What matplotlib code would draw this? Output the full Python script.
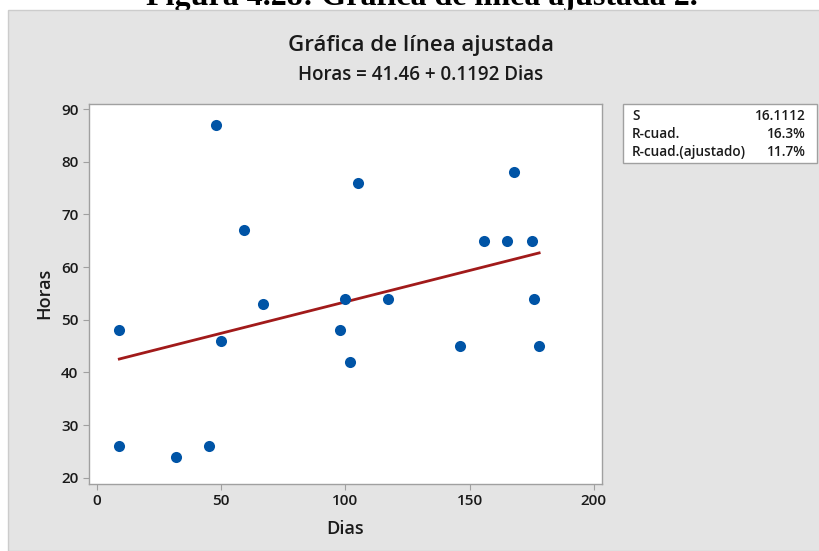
import matplotlib
matplotlib.use("Agg")
import matplotlib.pyplot as plt
import numpy as np
from matplotlib.patches import Rectangle

# Data
dias = [9, 9, 32, 45, 48, 50, 59, 67, 98, 100, 102, 105, 117, 146, 156, 165, 168, 175, 176, 178]
horas = [48, 26, 24, 26, 87, 46, 67, 53, 48, 54, 42, 76, 54, 45, 65, 65, 78, 65, 54, 45]
intercept = 41.46
slope = 0.1192
stat_labels = ["S", "R-cuad.", "R-cuad.(ajustado)"]
stat_values = ["16.1112", "16.3%", "11.7%"]
x_ticks = [0, 50, 100, 150, 200]
y_ticks = [20, 30, 40, 50, 60, 70, 80, 90]

W, H = 820, 551
plt.rcParams["font.family"] = ["Open Sans", "DejaVu Sans"]

fig = plt.figure(figsize=(W / 100, H / 100), dpi=100)
fig.patch.set_facecolor("white")

# grey Minitab panel behind the graph
fig.add_artist(Rectangle((8 / W, 0), 1 - 8 / W, 1 - 10 / H, transform=fig.transFigure,
                         facecolor="#e4e4e4", edgecolor="#cccccc", linewidth=1.0, zorder=0))

# document caption, cut off at the top (as in the source page)
fig.text(422 / W, 1 - 5 / H, "Figura 4.28: Gráfica de línea ajustada 2.",
         family="Liberation Serif", fontweight="bold", fontsize=23,
         ha="center", va="baseline", color="black", zorder=-1)

ax = fig.add_axes([89 / W, 1 - 483.5 / H, 513 / W, 379.5 / H])
ax.set_facecolor("white")

ax.scatter(dias, horas, s=64, color="#0054a6", zorder=3, linewidths=0)
xs = np.array([min(dias), max(dias)])
ax.plot(xs, intercept + slope * xs, color="#a11a1a", linewidth=2.0, zorder=2)

ax.set_xlim(-3.2, 203.3)
ax.set_ylim(18.9, 90.95)
ax.set_xticks(x_ticks)
ax.set_yticks(y_ticks)
for sp in ax.spines.values():
    sp.set_color("#a0a0a0")
    sp.set_linewidth(1.0)
ax.tick_params(direction="out", length=4, color="#a0a0a0", labelsize=11,
               labelcolor="#1a1a1a", pad=3.5)
for lab in ax.get_xticklabels() + ax.get_yticklabels():
    lab.set_fontweight("semibold")

ax.set_xlabel("Dias", fontsize=13, fontweight="semibold", labelpad=8.5, color="#1a1a1a")
ax.set_ylabel("Horas", fontsize=13, fontweight="semibold", labelpad=5.5, color="#1a1a1a")

fig.text(421 / W, 1 - 45 / H, "Gráfica de línea ajustada", fontsize=16,
         fontweight="semibold", ha="center", va="center", color="#1a1a1a")
fig.text(421 / W, 1 - 75 / H, "Horas = 41.46 + 0.1192 Dias", fontsize=13.5,
         fontweight="semibold", ha="center", va="center", color="#1a1a1a")

# summary box
fig.add_artist(Rectangle((623 / W, 1 - 163 / H), 194 / W, 59 / H, transform=fig.transFigure,
                         facecolor="white", edgecolor="#a0a0a0", linewidth=1.0, zorder=1))
for i, (lab, val) in enumerate(zip(stat_labels, stat_values)):
    yy = 1 - (116 + 18 * i) / H
    fig.text(632 / W, yy, lab, fontsize=9.8, fontweight="semibold", ha="left", va="center",
             color="#1a1a1a", zorder=2)
    fig.text(806 / W, yy, val, fontsize=9.8, fontweight="semibold", ha="right", va="center",
             color="#1a1a1a", zorder=2)

fig.savefig("out.png", dpi=100)
